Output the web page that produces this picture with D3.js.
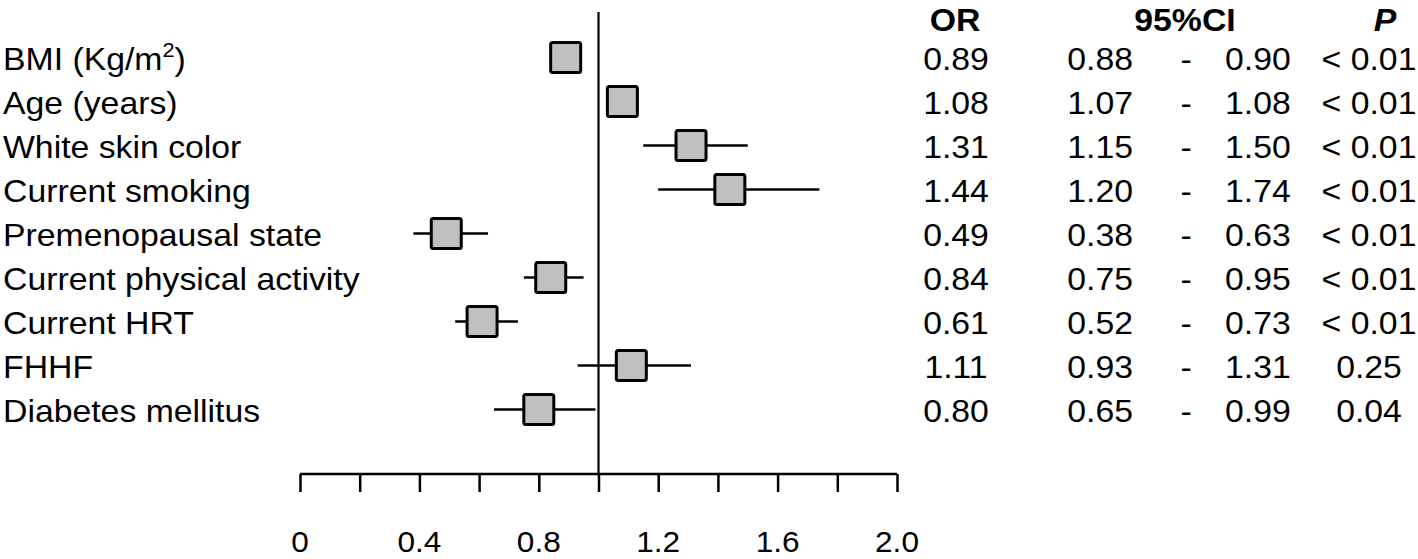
<!DOCTYPE html>
<html>
<head>
<meta charset="utf-8">
<script src="https://cdn.jsdelivr.net/npm/d3@7"></script>
<style>
  body { margin: 0; background: #fff; }
  text { font-family: Arial, "Liberation Sans", sans-serif; fill: #000; }
</style>
</head>
<body>
<svg id="chart" width="1418" height="559"></svg>
<script>
// data
const labels = ["BMI (Kg/m2)", "Age (years)", "White skin color", "Current smoking",
  "Premenopausal state", "Current physical activity", "Current HRT", "FHHF", "Diabetes mellitus"];
const orValues = [0.89, 1.08, 1.31, 1.44, 0.49, 0.84, 0.61, 1.11, 0.80];
const ciLow = [0.88, 1.07, 1.15, 1.20, 0.38, 0.75, 0.52, 0.93, 0.65];
const ciHigh = [0.90, 1.08, 1.50, 1.74, 0.63, 0.95, 0.73, 1.31, 0.99];
const pValues = ["< 0.01", "< 0.01", "< 0.01", "< 0.01", "< 0.01", "< 0.01", "< 0.01", "0.25", "0.04"];
const tickValues = [0, 0.2, 0.4, 0.6, 0.8, 1.0, 1.2, 1.4, 1.6, 1.8, 2.0];
const tickLabels = [0, 0.4, 0.8, 1.2, 1.6, 2.0];

const svg = d3.select("#chart");
const fs = 31;
const sx = 1.09; // the original type is a bit wider than Arial

const x = d3.scaleLinear().domain([0, 2]).range([300, 897]);
const y = d3.scaleBand().domain(d3.range(labels.length)).range([35.5, 431.5]);
const yc = i => y(i) + y.bandwidth() / 2;
const axisY = 474;

// place a text at (px, py), widened by sx
function put(sel, px, py) {
  return sel.attr("transform", "translate(" + px + "," + py + ") scale(" + sx + ",1)");
}

// reference line at OR = 1
svg.append("line")
  .attr("x1", x(1)).attr("x2", x(1))
  .attr("y1", 12).attr("y2", axisY)
  .attr("stroke", "#000").attr("stroke-width", 2.2);

// x axis (ticks drawn downward)
const axis = d3.axisBottom(x).tickValues(tickValues).tickSize(18).tickFormat("");
const gAxis = svg.append("g").attr("transform", "translate(0," + axisY + ")").call(axis);
gAxis.select(".domain").attr("d", "M" + x(0) + ",0H" + x(2))
  .attr("stroke", "#000").attr("stroke-width", 2.5);
gAxis.selectAll(".tick line").attr("stroke", "#000").attr("stroke-width", 2.5);

svg.append("g").selectAll("text")
  .data(tickLabels)
  .join("text")
  .each(function(d) { put(d3.select(this), x(d), 552); })
  .attr("text-anchor", "middle")
  .attr("font-size", 29)
  .text(d => d === 0 ? "0" : d3.format(".1f")(d));

// CI whiskers
svg.append("g").selectAll("line")
  .data(labels.map((d, i) => i))
  .join("line")
  .attr("x1", i => x(ciLow[i]))
  .attr("x2", i => x(ciHigh[i]))
  .attr("y1", yc).attr("y2", yc)
  .attr("stroke", "#000").attr("stroke-width", 2.5);

// OR boxes
const box = 30;
svg.append("g").selectAll("rect")
  .data(labels.map((d, i) => i))
  .join("rect")
  .attr("x", i => x(orValues[i]) - box / 2)
  .attr("y", i => yc(i) - box / 2)
  .attr("width", box).attr("height", box)
  .attr("rx", 2)
  .attr("fill", "#bfbfbf")
  .attr("stroke", "#000").attr("stroke-width", 3);

// row labels
const lab = svg.append("g").selectAll("text")
  .data(labels)
  .join("text")
  .each(function(d, i) { put(d3.select(this), 3, yc(i) + 12); })
  .attr("font-size", fs);
lab.each(function(d) {
  const t = d3.select(this);
  if (d.endsWith("m2)")) {
    t.append("tspan").text(d.slice(0, -2));
    t.append("tspan").attr("font-size", 20).attr("dy", -13).text("2");
    t.append("tspan").attr("dy", 13).text(")");
  } else {
    t.text(d);
  }
});

// headers
put(svg.append("text"), 955, 31).attr("text-anchor", "middle")
  .attr("font-size", fs).attr("font-weight", "bold").text("OR");
put(svg.append("text"), 1185, 31).attr("text-anchor", "middle")
  .attr("font-size", fs).attr("font-weight", "bold").text("95%CI");
put(svg.append("text"), 1385, 31).attr("text-anchor", "middle")
  .attr("font-size", fs).attr("font-weight", "bold").attr("font-style", "italic").text("P");

// table columns
const rows = svg.append("g").selectAll("g")
  .data(labels.map((d, i) => i))
  .join("g")
  .attr("transform", i => "translate(0," + (yc(i) + 12) + ")");
rows.append("text").each(function() { put(d3.select(this), 956, 0); })
  .attr("text-anchor", "middle").attr("font-size", fs)
  .text(i => orValues[i].toFixed(2));
rows.append("text").each(function() { put(d3.select(this), 1133, 0); })
  .attr("text-anchor", "end").attr("font-size", fs)
  .text(i => ciLow[i].toFixed(2));
rows.append("text").each(function() { put(d3.select(this), 1186, 0); })
  .attr("text-anchor", "middle").attr("font-size", fs)
  .text("-");
rows.append("text").each(function() { put(d3.select(this), 1225, 0); })
  .attr("text-anchor", "start").attr("font-size", fs)
  .text(i => ciHigh[i].toFixed(2));
rows.append("text").each(function() { put(d3.select(this), 1369, 0); })
  .attr("text-anchor", "middle").attr("font-size", fs)
  .text(i => pValues[i]);
</script>
</body>
</html>
